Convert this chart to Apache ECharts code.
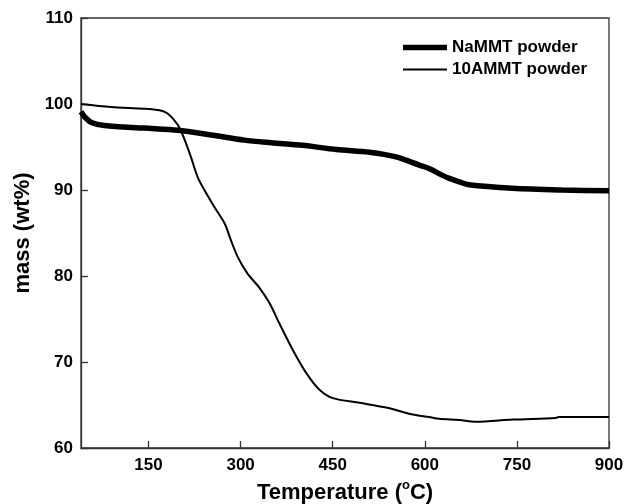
<!DOCTYPE html>
<html>
<head>
<meta charset="utf-8">
<script src="https://cdn.jsdelivr.net/npm/echarts@6/dist/echarts.min.js"></script>
<style>
  html, body { margin: 0; padding: 0; background: #fff; }
  #chart { width: 625px; height: 504px; }
</style>
</head>
<body>
<div id="chart"></div>
<script>
// TGA curves
var seriesNames = ["NaMMT powder", "10AMMT powder"];

var tempNa = [40, 46, 57, 78, 143, 198, 252, 306, 350, 401, 456, 510, 553, 591, 607, 629, 640, 656, 672, 743, 824, 900];
var massNa = [99.1, 98.5, 97.85, 97.5, 97.2, 96.95, 96.4, 95.8, 95.5, 95.2, 94.7, 94.4, 93.85, 92.9, 92.5, 91.7, 91.35, 90.95, 90.6, 90.2, 90.0, 89.9];

var temp10 = [40, 89, 143, 168, 181, 192, 200, 209, 219, 230, 241, 257, 274, 284, 295, 311, 331, 347, 363, 385, 407, 428, 450, 494, 537, 580, 607, 623, 656, 683, 743, 813, 818, 900];
var mass10 = [100, 99.65, 99.46, 99.27, 98.9, 98.1, 97.3, 95.8, 93.85, 91.5, 90.0, 88.05, 86.1, 84.2, 82.25, 80.3, 78.6, 76.85, 74.5, 71.4, 68.7, 66.8, 65.8, 65.25, 64.7, 63.9, 63.6, 63.4, 63.25, 63.05, 63.3, 63.5, 63.6, 63.6];

var xTicks = [150, 300, 450, 600, 750, 900];

function pairs(xs, ys) {
  return xs.map(function (x, i) { return [x, ys[i]]; });
}

var font = "Liberation Sans, Arial, sans-serif";
var legendText = { fontFamily: font, fontSize: 17, fontWeight: "bold", color: "#000" };
var chart = echarts.init(document.getElementById("chart"));

chart.setOption({
  animation: false,
  textStyle: { fontFamily: font, color: "#000" },
  grid: {
    left: 81, right: 16, top: 18, bottom: 56,
    outerBoundsMode: "none",
    show: true, borderColor: "#333", borderWidth: 1.3
  },
  legend: [
    {
      left: 398, top: 34,
      icon: "rect", itemWidth: 44, itemHeight: 5.5,
      textStyle: legendText,
      data: [seriesNames[0]]
    },
    {
      left: 398, top: 56,
      icon: "rect", itemWidth: 44, itemHeight: 2,
      textStyle: legendText,
      data: [seriesNames[1]]
    }
  ],
  xAxis: {
    type: "value",
    min: 40,
    max: 900,
    name: "Temperature ({sup|o}C)",
    nameLocation: "middle",
    nameGap: 29,
    nameTextStyle: {
      fontFamily: font, fontSize: 22, fontWeight: "bold", color: "#000",
      rich: {
        sup: { fontFamily: font, fontSize: 13, fontWeight: "bold", color: "#000", verticalAlign: "top", padding: [0, 0, 16, 0] }
      }
    },
    splitLine: { show: false },
    axisLine: { lineStyle: { color: "#333", width: 1.3 } },
    axisTick: { inside: true, length: 7, customValues: xTicks, lineStyle: { color: "#333", width: 1.3 } },
    axisLabel: {
      customValues: xTicks,
      margin: 9,
      fontFamily: font, fontSize: 17, fontWeight: "bold", color: "#000"
    }
  },
  yAxis: {
    type: "value",
    min: 60,
    max: 110,
    interval: 10,
    name: "mass (wt%)",
    nameLocation: "middle",
    nameGap: 47,
    nameTextStyle: { fontFamily: font, fontSize: 22, fontWeight: "bold", color: "#000" },
    splitLine: { show: false },
    axisLine: { show: true, lineStyle: { color: "#333", width: 1.3 } },
    axisTick: { inside: true, length: 7, lineStyle: { color: "#333", width: 1.3 } },
    axisLabel: { margin: 8, fontFamily: font, fontSize: 17, fontWeight: "bold", color: "#000" }
  },
  series: [
    {
      name: seriesNames[0],
      type: "line",
      data: pairs(tempNa, massNa),
      smooth: 0.3,
      symbol: "none",
      lineStyle: { color: "#000", width: 5.5 },
      itemStyle: { color: "#000" }
    },
    {
      name: seriesNames[1],
      type: "line",
      data: pairs(temp10, mass10),
      smooth: 0.3,
      symbol: "none",
      lineStyle: { color: "#000", width: 2 },
      itemStyle: { color: "#000" }
    }
  ]
});
</script>
</body>
</html>
